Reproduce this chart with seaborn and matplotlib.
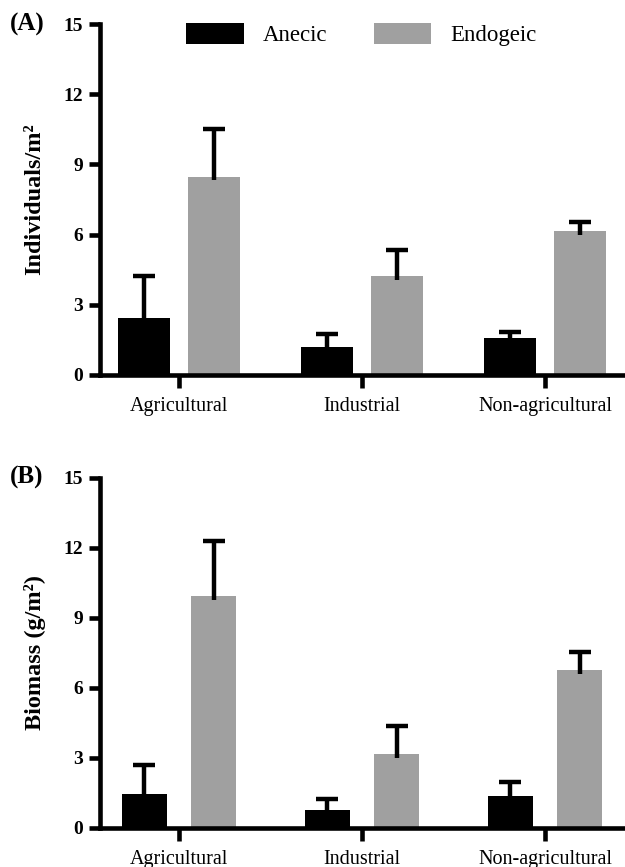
import matplotlib
matplotlib.use("Agg")
import matplotlib.pyplot as plt
import seaborn as sns
import pandas as pd
import numpy as np

# ---- data ----
sites = ["Agricultural", "Industrial", "Non-agricultural"]
groups = ["Anecic", "Endogeic"]

ind_anecic = [2.45, 1.21, 1.57]
ind_endogeic = [8.47, 4.23, 6.15]
ind_anecic_err = [1.78, 0.54, 0.26]
ind_endogeic_err = [2.03, 1.11, 0.40]

bio_anecic = [1.47, 0.76, 1.37]
bio_endogeic = [9.93, 3.16, 6.76]
bio_anecic_err = [1.21, 0.49, 0.59]
bio_endogeic_err = [2.35, 1.23, 0.80]

yticks = [0, 3, 6, 9, 12, 15]

sns.set_style("ticks")
plt.rcParams["font.family"] = ["Liberation Serif", "DejaVu Serif"]
for k in ["text.color", "axes.labelcolor", "xtick.color", "ytick.color",
          "axes.edgecolor"]:
    plt.rcParams[k] = "black"

colors = {"Anecic": "#000000", "Endogeic": "#a0a0a0"}

fig = plt.figure(figsize=(6.25, 8.67), dpi=100)
axA = fig.add_axes([0.16, 0.5675, 0.84, 0.4048])
axB = fig.add_axes([0.16, 0.0450, 0.84, 0.4037])


def make_df(a, e):
    return pd.DataFrame({
        "site": sites * 2,
        "group": [groups[0]] * 3 + [groups[1]] * 3,
        "value": list(a) + list(e),
    })


def draw(ax, a, e, ae, ee, ylabel, gap, legend):
    df = make_df(a, e)
    sns.barplot(data=df, x="site", y="value", hue="group", order=sites,
                hue_order=groups, palette=colors, width=0.76, gap=gap,
                errorbar=None, linewidth=0, ax=ax, legend=legend)
    for cont, errs in zip(ax.containers, [ae, ee]):
        xs = np.array([p.get_x() + p.get_width() / 2 for p in cont.patches])
        ys = np.array([p.get_height() for p in cont.patches])
        errs = np.array(errs)
        ax.errorbar(xs, ys - 0.15, yerr=[np.zeros(len(errs)), errs + 0.15],
                    fmt="none", ecolor="black", elinewidth=3.2, capsize=0,
                    zorder=1)
        ax.plot(xs, ys + errs, ls="none", marker="_", ms=16, mew=3.2,
                color="black", zorder=1)
    ax.set_ylim(0, 15)
    ax.set_xlim(-0.432, 2.437)
    ax.set_yticks(yticks)
    ax.set_yticklabels([str(t) for t in yticks], fontweight="bold", fontsize=14)
    ax.set_xticks(range(len(sites)))
    ax.set_xticklabels(sites, fontsize=14.5)
    ax.set_xlabel("")
    ax.set_ylabel(ylabel, fontsize=17.5, fontweight="bold", labelpad=13)
    for s in ["top", "right"]:
        ax.spines[s].set_visible(False)
    for s in ["left", "bottom"]:
        ax.spines[s].set_linewidth(3.3)
        ax.spines[s].set_color("black")
    ax.tick_params(axis="both", width=3.3, length=8, pad=4, color="black")
    ax.tick_params(axis="x", length=9, pad=7)


draw(axA, ind_anecic, ind_endogeic, ind_anecic_err, ind_endogeic_err,
     "Individuals/m²", 0.25, True)
draw(axB, bio_anecic, bio_endogeic, bio_anecic_err, bio_endogeic_err,
     "Biomass (g/m²)", 0.35, False)

leg = axA.legend(loc="center", bbox_to_anchor=(0.498, 0.969), ncol=2,
                 frameon=False, fontsize=16.5, handlelength=2.5,
                 handleheight=1.0, handletextpad=0.83, columnspacing=2.05,
                 borderaxespad=0, borderpad=0)

fig.text(0.016, 0.972, "(A)", fontsize=18, fontweight="bold", va="center")
fig.text(0.016, 0.449, "(B)", fontsize=18, fontweight="bold", va="center")

fig.savefig("out.png", dpi=100)
